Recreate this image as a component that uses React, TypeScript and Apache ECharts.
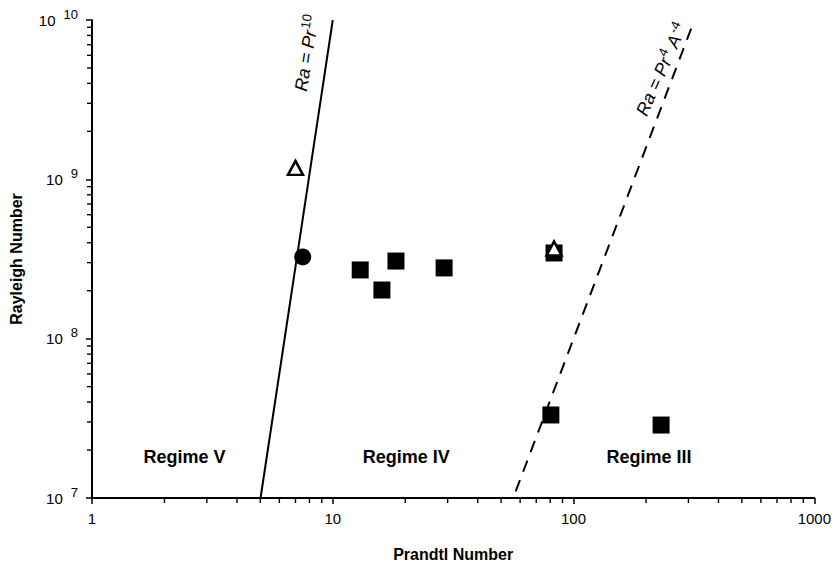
import React, { useEffect, useRef } from "react";
import * as echarts from "echarts";

// Data (Prandtl number, Rayleigh number)
const squarePoints: [number, number][] = [
  [13.0, 2.7e8],
  [16.0, 2.02e8],
  [18.3, 3.07e8],
  [29.0, 2.78e8],
  [83.0, 3.45e8],
  [80.5, 3.32e7],
  [231, 2.87e7],
];
const circlePoints: [number, number][] = [[7.5, 3.26e8]];
const trianglePoints: [number, number][] = [
  [7.0, 1.18e9],
  [83.0, 3.68e8],
];
const lineA: [number, number][] = [
  [5.012, 1e7],
  [10, 1e10],
];
const lineB: [number, number][] = [
  [57.5, 1.1e7],
  [316, 9.8e9],
];
const regimeLabels: { name: string; value: [number, number] }[] = [
  { name: "Regime V", value: [2.42, 1.82e7] },
  { name: "Regime IV", value: [20.2, 1.82e7] },
  { name: "Regime III", value: [206, 1.82e7] },
];
const xMin = 1;
const xMax = 1000;
const yMin = 1e7;
const yMax = 1e10;
const minorMultipliers = [2, 3, 4, 5, 6, 7, 8, 9];
const xDecades = [1, 10, 100];
const yDecades = [1e7, 1e8, 1e9];
const xMinorTicks: number[] = [];
xDecades.forEach((d) => minorMultipliers.forEach((k) => xMinorTicks.push(k * d)));
const yMinorTicks: number[] = [];
yDecades.forEach((d) => minorMultipliers.forEach((k) => yMinorTicks.push(k * d)));

const FONT = "Liberation Sans, Arial, Helvetica, sans-serif";

export default function App() {
  const ref = useRef<HTMLDivElement>(null);
  useEffect(() => {
    document.body.style.margin = "0";
    const chart = echarts.init(ref.current!, undefined, { renderer: "svg" });
    const grid = { left: 85, right: 18, top: 20, bottom: 71 };
    chart.setOption({
      animation: false,
      backgroundColor: "#ffffff",
      textStyle: { fontFamily: FONT },
      grid,
      xAxis: {
        type: "log",
        logBase: 10,
        min: xMin,
        max: xMax,
        name: "Prandtl Number",
        nameLocation: "middle",
        nameGap: 48,
        nameTextStyle: { fontFamily: FONT, fontWeight: "bold", fontSize: 16, color: "#000" },
        axisLine: { lineStyle: { color: "#000", width: 2 } },
        axisTick: { show: true, length: 6, lineStyle: { color: "#000", width: 1.5 } },
        axisLabel: {
          color: "#000",
          fontSize: 15,
          margin: 13,
          fontFamily: FONT,
          formatter: (v: number) => String(Math.round(v)),
        },
        splitLine: { show: false },
      },
      yAxis: {
        type: "log",
        logBase: 10,
        min: yMin,
        max: yMax,
        name: "Rayleigh Number",
        nameLocation: "middle",
        nameGap: 68,
        nameRotate: 90,
        nameTextStyle: { fontFamily: FONT, fontWeight: "bold", fontSize: 16, color: "#000" },
        axisLine: { lineStyle: { color: "#000", width: 2 } },
        axisTick: { show: true, length: 6, lineStyle: { color: "#000", width: 1.5 } },
        axisLabel: {
          color: "#000",
          margin: 14,
          formatter: (v: number) => `{b|10}{s|${Math.round(Math.log10(v))}}`,
          rich: {
            b: { fontSize: 15, fontFamily: FONT, color: "#000" },
            s: { fontSize: 13, fontFamily: FONT, color: "#000", padding: [0, 0, 12, 8] },
          },
        },
        splitLine: { show: false },
      },
      series: [
        {
          type: "scatter",
          silent: true,
          clip: false,
          data: xMinorTicks.map((v) => [v, yMin]),
          symbol: "rect",
          symbolSize: [1.4, 4],
          symbolOffset: [0, 3],
          itemStyle: { color: "#000", opacity: 1 },
        },
        {
          type: "scatter",
          silent: true,
          clip: false,
          data: yMinorTicks.map((v) => [xMin, v]),
          symbol: "rect",
          symbolSize: [4, 1.4],
          symbolOffset: [-3, 0],
          itemStyle: { color: "#000", opacity: 1 },
        },
        {
          type: "line",
          data: lineA,
          symbol: "none",
          lineStyle: { color: "#000", width: 2 },
          silent: true,
        },
        {
          type: "line",
          data: lineB,
          symbol: "none",
          lineStyle: { color: "#000", width: 2, type: [12, 9] },
          silent: true,
        },
        {
          type: "scatter",
          data: squarePoints,
          symbol: "rect",
          symbolSize: 17,
          itemStyle: { color: "#000", opacity: 1 },
        },
        {
          type: "scatter",
          data: circlePoints,
          symbol: "circle",
          symbolSize: 17,
          itemStyle: { color: "#000", opacity: 1 },
        },
        {
          type: "scatter",
          data: trianglePoints,
          symbol: "triangle",
          symbolSize: [15, 14],
          itemStyle: { color: "#fff", borderColor: "#000", borderWidth: 2.5, opacity: 1 },
        },
        {
          type: "scatter",
          data: regimeLabels,
          symbolSize: 0,
          silent: true,
          itemStyle: { opacity: 1 },
          label: {
            show: true,
            position: "inside",
            formatter: (p: any) => p.name,
            fontFamily: FONT,
            fontWeight: "bold",
            fontSize: 18,
            color: "#000",
          },
        },
        {
          type: "scatter",
          data: [{ name: "a", value: [7.8, 6.2e9] }],
          symbolSize: 0,
          silent: true,
          itemStyle: { opacity: 1 },
          label: {
            show: true,
            position: "inside",
            rotate: 81,
            formatter: () => "{i|Ra = Pr}{s|10}",
            rich: {
              i: { fontFamily: FONT, fontStyle: "italic", fontSize: 18, color: "#000" },
              s: { fontFamily: FONT, fontSize: 13, color: "#000", padding: [0, 0, 11, 1] },
            },
          },
        },
        {
          type: "scatter",
          data: [{ name: "b", value: [232, 4.9e9] }],
          symbolSize: 0,
          silent: true,
          itemStyle: { opacity: 1 },
          label: {
            show: true,
            position: "inside",
            rotate: 66,
            formatter: () => "{i|Ra = Pr}{s|4}{i| A}{s|-4}",
            rich: {
              i: { fontFamily: FONT, fontStyle: "italic", fontSize: 18, color: "#000" },
              s: { fontFamily: FONT, fontSize: 13, color: "#000", padding: [0, 0, 11, 1] },
            },
          },
        },
      ],
    });
    return () => chart.dispose();
  }, []);
  return (
    <div
      ref={ref}
      style={{ width: 834, height: 569, position: "absolute", left: 0, top: 0 }}
    />
  );
}
